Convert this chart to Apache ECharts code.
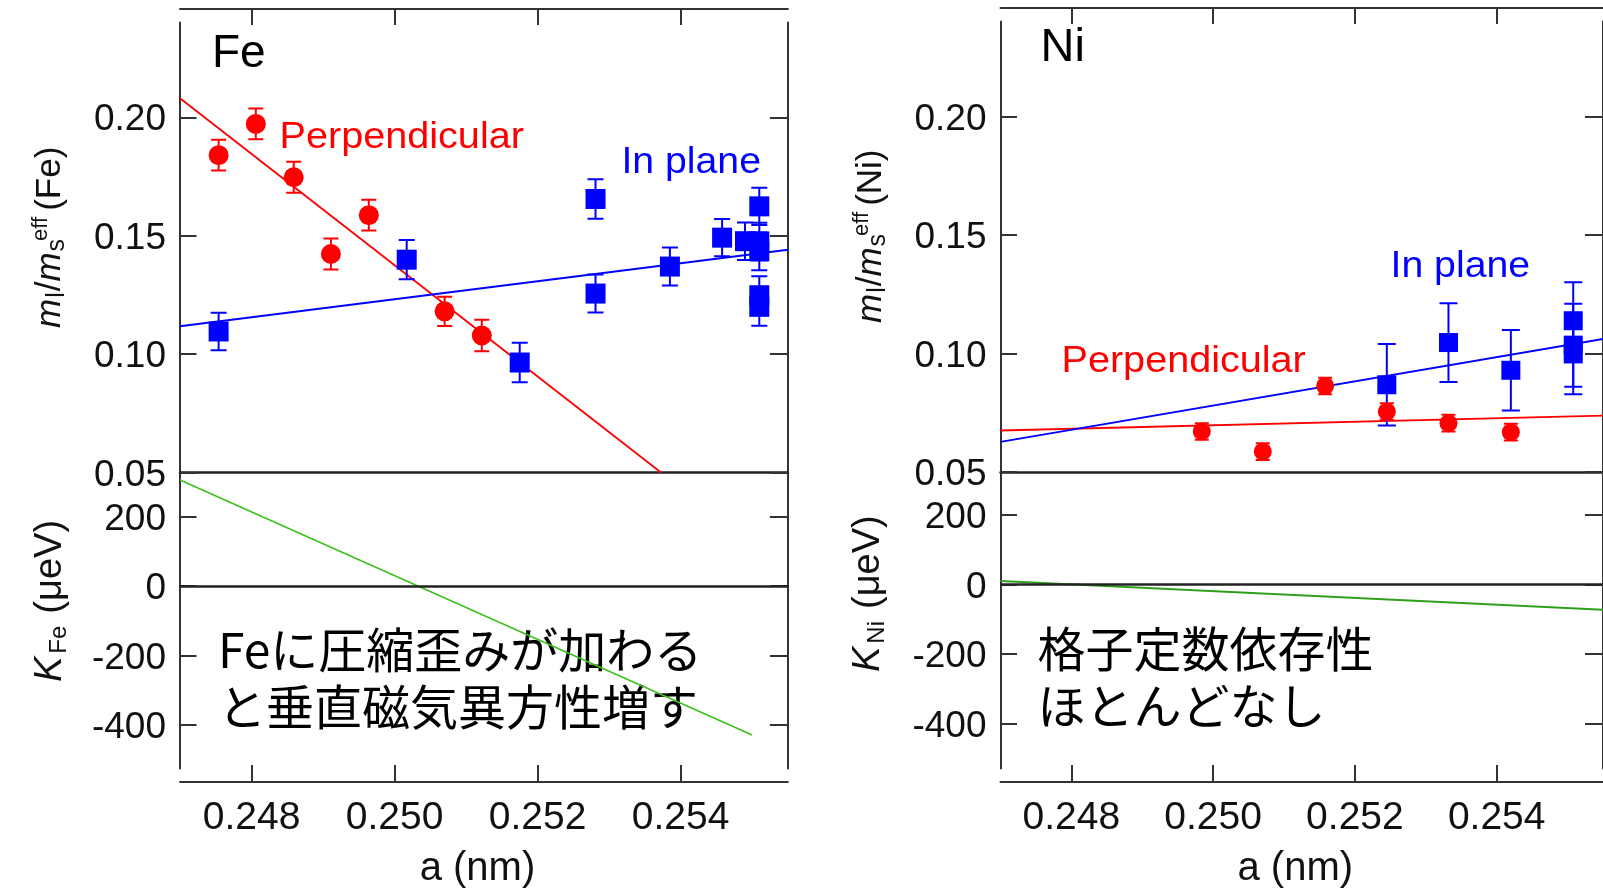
<!DOCTYPE html>
<html>
<head>
<meta charset="utf-8">
<script src="https://cdn.jsdelivr.net/npm/echarts@6/dist/echarts.min.js"></script>
<style>
  html, body { margin: 0; padding: 0; background: #fff; }
  #chart { width: 1603px; height: 890px; }
</style>
</head>
<body>
<div id="chart"></div>
<script>
// ---- tick values ----
const xTicks = [0.248, 0.250, 0.252, 0.254];
const ratioTicks = [0.05, 0.10, 0.15, 0.20];
const kTicks = [-400, -200, 0, 200];

// ---- Fe: m_l / m_s^eff versus lattice constant a (nm) ----
const fePerpA     = [0.24754, 0.24806, 0.24859, 0.24911, 0.24964, 0.25070, 0.25122];
const fePerpRatio = [0.1840, 0.1972, 0.1747, 0.1423, 0.1587, 0.1181, 0.1079];
const fePerpErr   = [0.0065, 0.0065, 0.0065, 0.0065, 0.0065, 0.0062, 0.0066];

const feInA     = [0.24754, 0.25017, 0.25175, 0.25281, 0.25281, 0.25385, 0.25458, 0.25490, 0.25510, 0.25510, 0.25510, 0.25510, 0.25510];
const feInRatio = [0.1096, 0.1399, 0.0965, 0.1655, 0.1256, 0.1370, 0.1492, 0.1477, 0.1624, 0.1476, 0.1434, 0.1249, 0.1200];
const feInErr   = [0.0079, 0.0083, 0.0083, 0.0083, 0.0080, 0.0080, 0.0079, 0.0079, 0.0079, 0.0079, 0.0080, 0.0080, 0.0080];

const fePerpFitA = [0.2470, 0.25373];
const fePerpFit  = [0.2080, 0.0500];
const feInFitA   = [0.2470, 0.2555];
const feInFit    = [0.1118, 0.1441];

// Fe anisotropy energy K (µeV)
const feKA = [0.2470, 0.2550];
const feK  = [306, -430];

// ---- Ni ----
const niPerpA     = [0.24984, 0.25070, 0.25158, 0.25245, 0.25332, 0.25420];
const niPerpRatio = [0.0671, 0.0586, 0.0863, 0.0755, 0.0706, 0.0668];
const niPerpErr   = [0.0035, 0.0035, 0.0035, 0.0035, 0.0035, 0.0035];

const niInA     = [0.25245, 0.25332, 0.25420, 0.25508, 0.25508, 0.25508];
const niInRatio = [0.0868, 0.1046, 0.0929, 0.1138, 0.1035, 0.0998];
const niInErr   = [0.0172, 0.0166, 0.0170, 0.0162, 0.0175, 0.0170];

const niPerpFitA = [0.2470, 0.2555];
const niPerpFit  = [0.0675, 0.0738];
const niInFitA   = [0.2470, 0.2555];
const niInFit    = [0.0627, 0.1061];

const niKA = [0.2470, 0.2555];
const niK  = [10, -73];

// ---- styling ----
const LATIN = '"Liberation Sans", Arial, sans-serif';
const CJK = '"Noto Sans CJK JP", "Noto Sans CJK SC", sans-serif';
const AXIS = '#333';
const RED = '#ff0000';
const BLUE = '#0000ff';

const X_MIN = 0.247, X_MAX = 0.2555;
const R_MIN = 0.05, R_MAX = 0.24;

const panels = [
  { left: 180, width: 607.9, top: 22.5, mid: 472.7, bottom: 772.3, kMin: -526.6, kMax: 327.2 },
  { left: 1000.5, width: 607.3, top: 21.5, mid: 472, bottom: 771.7, kMin: -529.2, kMax: 323.5 }
];

const pairs = (xs, ys) => xs.map((x, i) => [x, ys[i]]);
const triples = (xs, ys, es) => xs.map((x, i) => [x, ys[i], es[i]]);

const grids = [];
const xAxes = [];
const yAxes = [];

panels.forEach((p, k) => {
  const gTop = 2 * k, gBot = 2 * k + 1;
  grids.push({ left: p.left, top: p.top, width: p.width, height: p.mid - p.top });
  grids.push({ left: p.left, top: p.mid, width: p.width, height: p.bottom - p.mid });

  const baseX = { type: 'value', min: X_MIN, max: X_MAX, splitLine: { show: false } };
  // upper frame axis with inward ticks
  xAxes.push(Object.assign({}, baseX, {
    gridIndex: gTop, position: 'top', offset: 13.5,
    axisLine: { show: true, onZero: false, lineStyle: { color: AXIS, width: 2 } },
    axisTick: { show: true, inside: true, length: 16, customValues: xTicks, lineStyle: { color: AXIS, width: 2 } },
    axisLabel: { show: false }
  }));
  // divider between the two sub-plots
  xAxes.push(Object.assign({}, baseX, {
    gridIndex: gTop, position: 'bottom', offset: 0,
    axisLine: { show: true, onZero: false, lineStyle: { color: '#222', width: 2.5 } },
    axisTick: { show: false }, axisLabel: { show: false }
  }));
  // lower axis with labels
  xAxes.push(Object.assign({}, baseX, {
    gridIndex: gBot, position: 'bottom', offset: 13.5,
    axisLine: { show: true, onZero: false, lineStyle: { color: AXIS, width: 2 } },
    axisTick: { show: true, inside: true, length: 17, customValues: xTicks, lineStyle: { color: AXIS, width: 2 } },
    axisLabel: {
      show: true, customValues: xTicks, margin: 17,
      formatter: v => v.toFixed(3),
      fontFamily: LATIN, fontSize: 39, color: '#111'
    },
    name: 'a (nm)', nameLocation: 'middle', nameGap: 67,
    nameTextStyle: { fontFamily: LATIN, fontSize: 40, color: '#111', padding: [0, 13, 0, 0] }
  }));

  const leftY = (gridIndex, min, max, ticks, fmt) => ({
    type: 'value', gridIndex, position: 'left', min, max,
    splitLine: { show: false },
    axisLine: { show: true, onZero: false, lineStyle: { color: AXIS, width: 2 } },
    axisTick: { show: true, inside: true, length: 16.5, customValues: ticks, lineStyle: { color: AXIS, width: 2 } },
    axisLabel: {
      show: true, customValues: ticks, margin: 14,
      formatter: v => '{t|' + fmt(v) + '}',
      rich: { t: { fontFamily: LATIN, fontSize: 37, color: '#111', padding: [6, 0, 0, 0] } }
    }
  });
  const rightY = (gridIndex, min, max, ticks) => ({
    type: 'value', gridIndex, position: 'right', min, max,
    splitLine: { show: false },
    axisLine: { show: true, onZero: false, lineStyle: { color: AXIS, width: 2 } },
    axisTick: { show: true, inside: true, length: 18, customValues: ticks, lineStyle: { color: AXIS, width: 2 } },
    axisLabel: { show: false }
  });
  yAxes.push(leftY(gTop, R_MIN, R_MAX, ratioTicks, v => v.toFixed(2)));
  yAxes.push(rightY(gTop, R_MIN, R_MAX, ratioTicks));
  yAxes.push(leftY(gBot, p.kMin, p.kMax, kTicks, v => String(Math.round(v))));
  yAxes.push(rightY(gBot, p.kMin, p.kMax, kTicks));
});

// vertical error bars drawn through the axis scales
function errorBars(data, xAxisIndex, yAxisIndex, color, halfCap, width) {
  return {
    type: 'custom', xAxisIndex, yAxisIndex, z: 3, silent: true,
    data, encode: { x: 0, y: 1 }, clip: true,
    renderItem(params, api) {
      const x = api.value(0), y = api.value(1), e = api.value(2);
      const hi = api.coord([x, y + e]);
      const lo = api.coord([x, y - e]);
      const st = { stroke: color, lineWidth: width };
      return {
        type: 'group', children: [
          { type: 'line', shape: { x1: hi[0], y1: hi[1], x2: lo[0], y2: lo[1] }, style: st },
          { type: 'line', shape: { x1: hi[0] - halfCap, y1: hi[1], x2: hi[0] + halfCap, y2: hi[1] }, style: st },
          { type: 'line', shape: { x1: lo[0] - halfCap, y1: lo[1], x2: lo[0] + halfCap, y2: lo[1] }, style: st }
        ]
      };
    }
  };
}
const markers = (data, xAxisIndex, yAxisIndex, symbol, size, color) => ({
  type: 'scatter', xAxisIndex, yAxisIndex, data, symbol, symbolSize: size, z: 4, silent: true,
  itemStyle: { color, opacity: 1 }
});
const fitLine = (data, xAxisIndex, yAxisIndex, color, width) => ({
  type: 'line', xAxisIndex, yAxisIndex, data, showSymbol: false, symbol: 'none', z: 2, silent: true,
  lineStyle: { color, width }
});
const zeroLine = {
  silent: true, symbol: ['none', 'none'], label: { show: false },
  lineStyle: { color: '#222', width: 2.5, type: 'solid' }, data: [{ yAxis: 0 }]
};

const series = [
  // Fe
  errorBars(triples(fePerpA, fePerpRatio, fePerpErr), 0, 0, RED, 7.5, 2),
  errorBars(triples(feInA, feInRatio, feInErr), 0, 0, BLUE, 8, 2),
  fitLine(pairs(fePerpFitA, fePerpFit), 0, 0, RED, 1.8),
  fitLine(pairs(feInFitA, feInFit), 0, 0, BLUE, 1.8),
  markers(pairs(fePerpA, fePerpRatio), 0, 0, 'circle', 20, RED),
  markers(pairs(feInA, feInRatio), 0, 0, 'rect', 20, BLUE),
  Object.assign(fitLine(pairs(feKA, feK), 2, 2, '#3cc21e', 1.6), { markLine: zeroLine }),
  // Ni
  errorBars(triples(niPerpA, niPerpRatio, niPerpErr), 3, 4, RED, 7, 2),
  errorBars(triples(niInA, niInRatio, niInErr), 3, 4, BLUE, 9, 2),
  fitLine(pairs(niPerpFitA, niPerpFit), 3, 4, RED, 1.8),
  fitLine(pairs(niInFitA, niInFit), 3, 4, BLUE, 1.8),
  markers(pairs(niPerpA, niPerpRatio), 3, 4, 'circle', 18, RED),
  markers(pairs(niInA, niInRatio), 3, 4, 'rect', 19, BLUE),
  Object.assign(fitLine(pairs(niKA, niK), 5, 6, '#2f9f1c', 2), { markLine: zeroLine })
];

// rotated axis titles with sub/superscripts, laid out from measured text widths
const measureCtx = document.createElement('canvas').getContext('2d');
function verticalTitle(parts, baseX, startY) {
  let pos = 0;
  const children = [];
  parts.forEach(p => {
    const style = p.italic ? 'italic' : 'normal';
    measureCtx.font = `${style} ${p.size}px ${LATIN}`;
    const w = measureCtx.measureText(p.text).width;
    pos += p.gap || 0;
    children.push({
      type: 'text', x: pos, y: (p.dy || 0) - 0.35 * p.size,
      style: {
        text: p.text, fontFamily: LATIN, fontSize: p.size, fontStyle: style,
        fill: '#111', align: 'left', verticalAlign: 'middle'
      }
    });
    pos += w;
  });
  return { type: 'group', x: baseX, y: startY, rotation: Math.PI / 2, silent: true, children };
}
const ratioTitle = el => [
  { text: 'm', size: 35, italic: true },
  { text: 'l', size: 25, dy: 3, gap: 1 },
  { text: '/', size: 35, gap: 1 },
  { text: 'm', size: 35, italic: true },
  { text: 's', size: 25, dy: 3, gap: 1 },
  { text: 'eff', size: 22, dy: -14, gap: -2 },
  { text: '(' + el + ')', size: 35, gap: 6 }
];
const kTitle = el => [
  { text: 'K', size: 38, italic: true },
  { text: el, size: 24, dy: 4, gap: 3 },
  { text: '(\u03bceV)', size: 38, gap: 12 }
];

const label = (text, x, y, size, color, family, scaleX) => ({
  type: 'text', x, y, scaleX: scaleX || 1, silent: true,
  style: { text, fontFamily: family, fontSize: size, fill: color, align: 'left', verticalAlign: 'middle' }
});

const graphic = [
  verticalTitle(ratioTitle('Fe'), 63, 328),
  verticalTitle(kTitle('Fe'), 64, 682),
  verticalTitle(ratioTitle('Ni'), 884, 323),
  verticalTitle(kTitle('Ni'), 882, 672),
  label('Fe', 212, 54.5, 46, '#000', LATIN),
  label('Ni', 1040.6, 48, 47, '#000', LATIN),
  label('Perpendicular', 279.6, 138, 37, RED, LATIN, 1.07),
  label('In plane', 621.4, 163, 37, BLUE, LATIN, 1.06),
  label('Perpendicular', 1061.5, 362, 37, RED, LATIN, 1.07),
  label('In plane', 1390.5, 267, 37, BLUE, LATIN, 1.06),
  label('Feに圧縮歪みが加わる', 218, 650, 48, '#000', CJK),
  label('と垂直磁気異方性増す', 218, 707, 48, '#000', CJK),
  label('格子定数依存性', 1037.5, 648.5, 48, '#000', CJK),
  label('ほとんどなし', 1037.5, 706, 48, '#000', CJK)
];

const chart = echarts.init(document.getElementById('chart'), null, { renderer: 'canvas' });
chart.setOption({
  animation: false,
  backgroundColor: '#fff',
  grid: grids,
  xAxis: xAxes,
  yAxis: yAxes,
  series,
  graphic
});
</script>
</body>
</html>
